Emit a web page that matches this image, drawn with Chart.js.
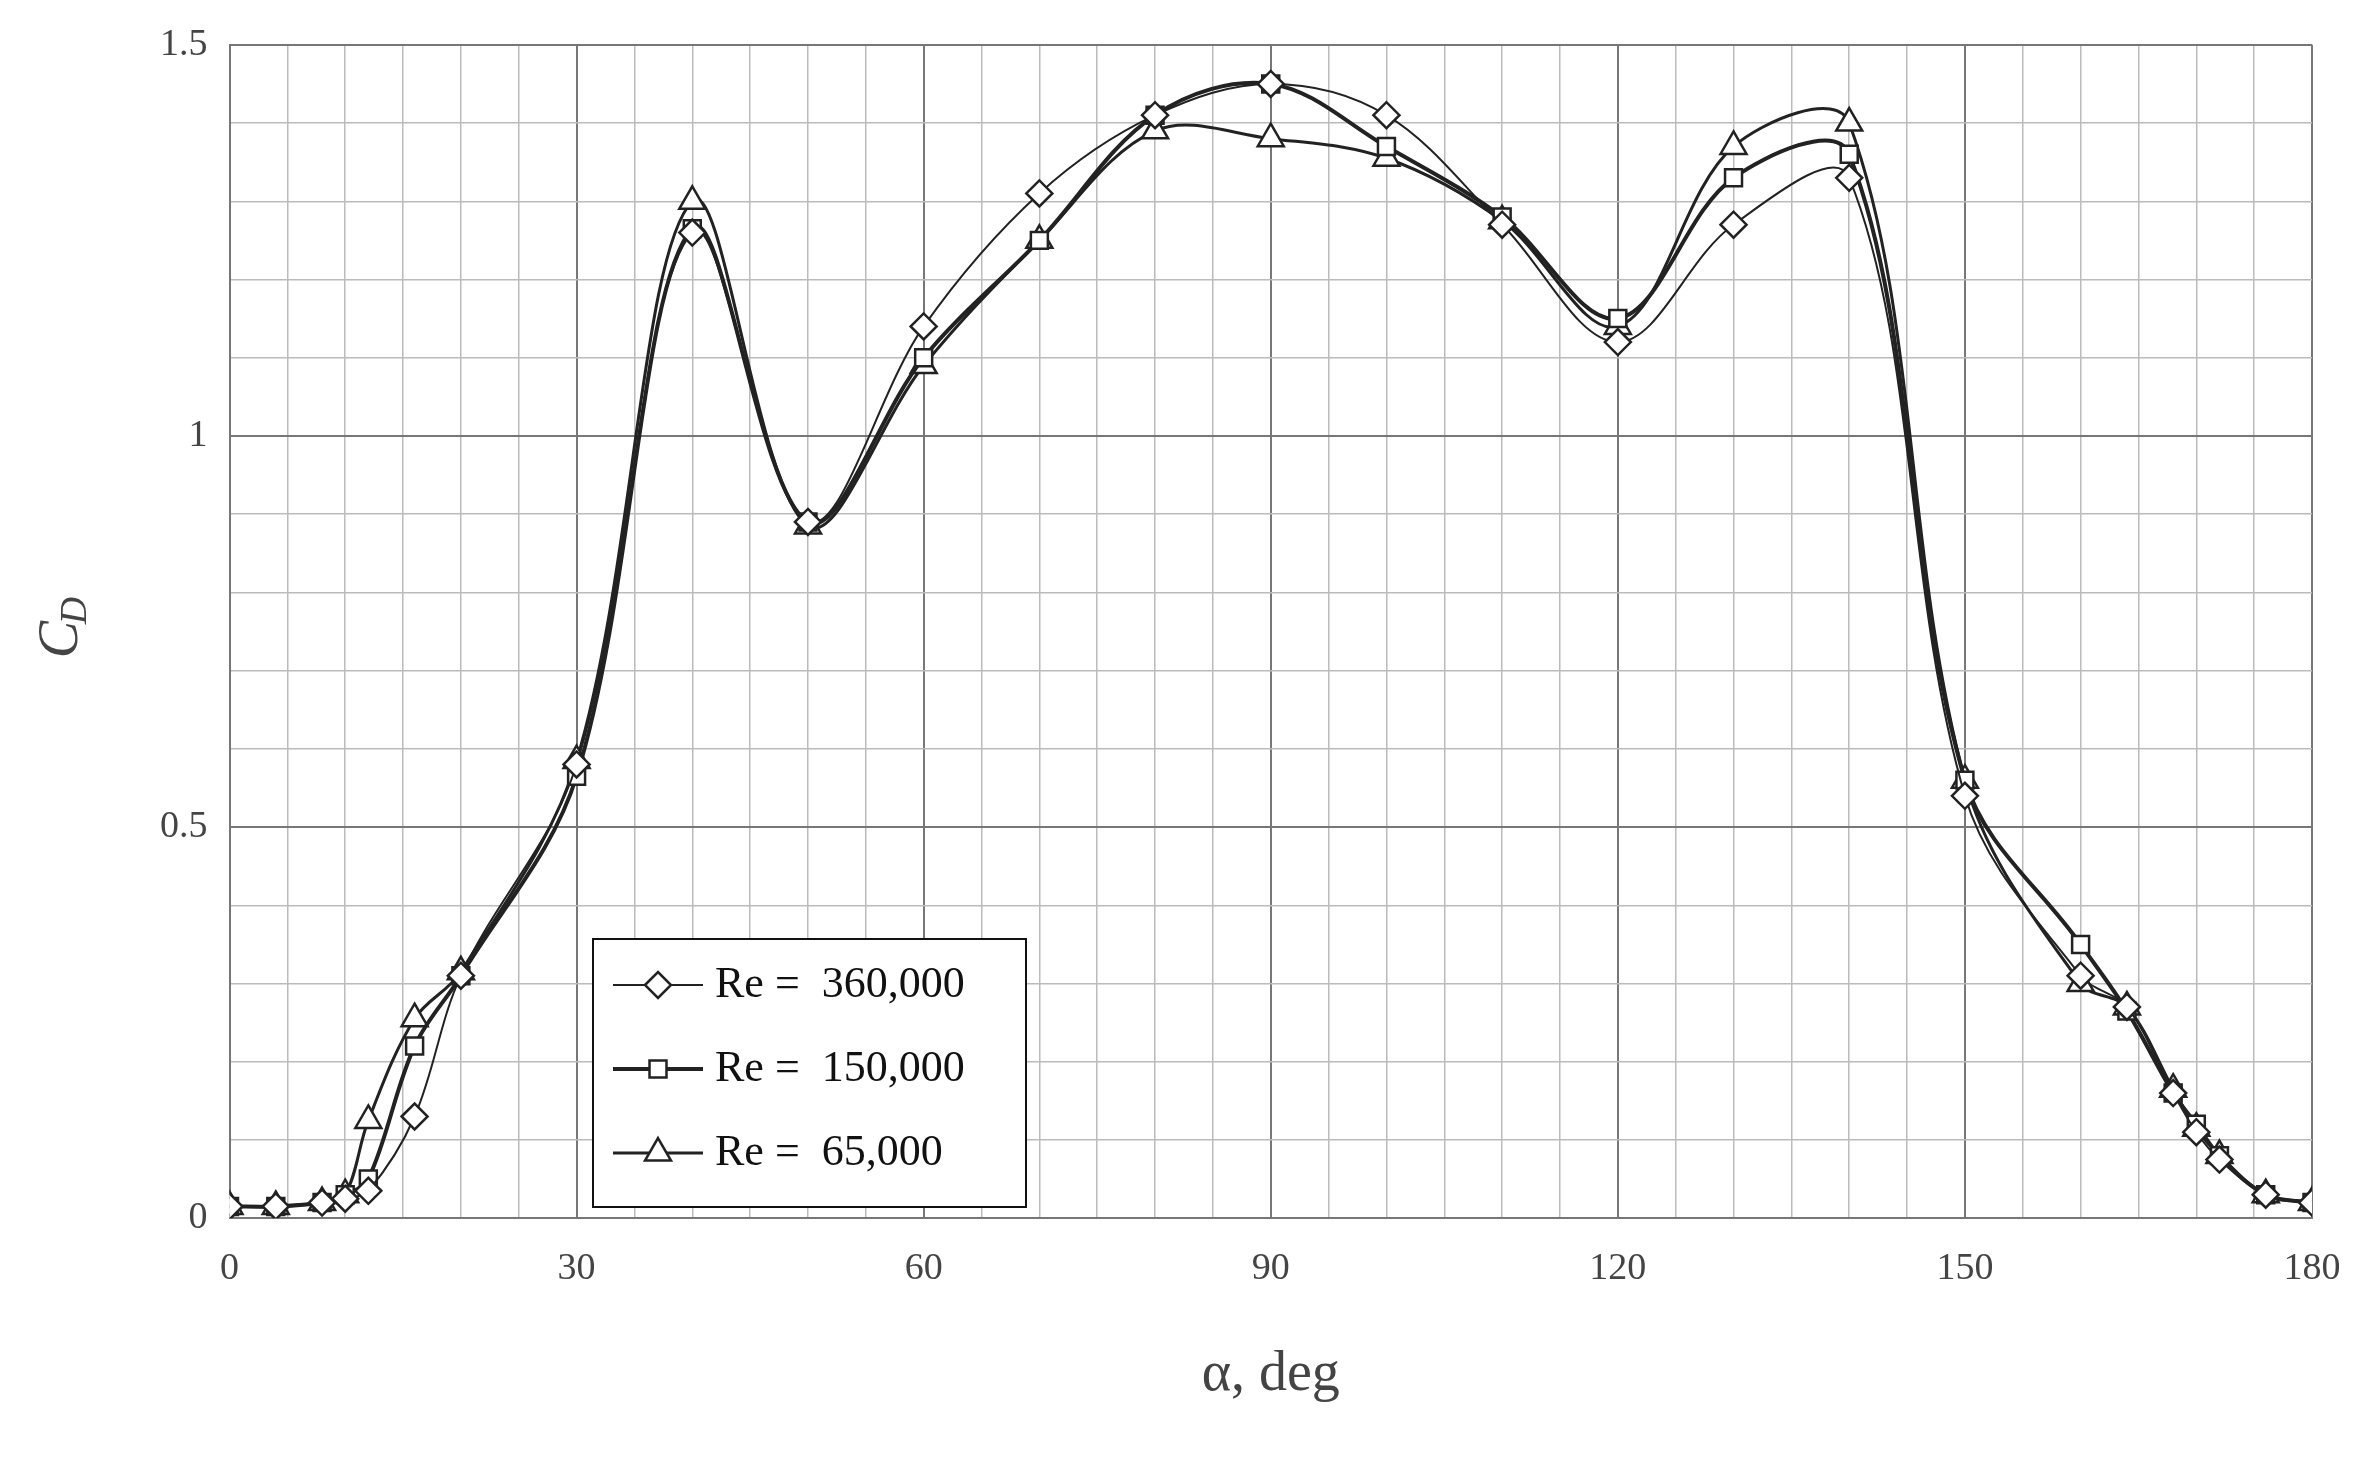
<!DOCTYPE html>
<html><head><meta charset="utf-8">
<script src="https://cdn.jsdelivr.net/npm/chart.js@4.4.1/dist/chart.umd.min.js"></script>
<style>html,body{margin:0;background:#fff}#wrap{width:2374px;height:1463px}</style>
</head><body><div id="wrap"><canvas id="c"></canvas></div>
<script>
const alpha = [0,4,8,10,12,16,20,30,40,50,60,70,80,90,100,110,120,130,140,150,160,164,168,170,172,176,180];
const cd360 = [0.015,0.015,0.02,0.025,0.035,0.13,0.31,0.58,1.26,0.89,1.14,1.31,1.41,1.45,1.41,1.27,1.12,1.27,1.33,0.54,0.31,0.27,0.16,0.11,0.075,0.03,0.02];
const cd150 = [0.015,0.015,0.02,0.03,0.05,0.22,0.31,0.565,1.265,0.89,1.10,1.25,1.41,1.45,1.37,1.28,1.15,1.33,1.36,0.56,0.35,0.265,0.16,0.12,0.08,0.03,0.02];
const cd65 = [0.015,0.015,0.02,0.03,0.125,0.255,0.315,0.585,1.30,0.885,1.09,1.25,1.39,1.38,1.355,1.275,1.14,1.37,1.40,0.56,0.30,0.27,0.165,0.115,0.08,0.03,0.02];
const seriesNames = ["Re =  360,000","Re =  150,000","Re =  65,000"];
const xTicks = [0,30,60,90,120,150,180];
const yTicks = [0,0.5,1,1.5];

const font = "Liberation Serif";
function ds(label, ys, style, w){
  return {label, data: alpha.map((a,i)=>({x:a,y:ys[i]})), borderColor:"#222", borderWidth:w,
    pointStyle:style, pointRadius: style==="rectRot"?13:(style==="triangle"?15:12), pointBackgroundColor:"#fff",
    pointBorderColor:"#222", pointBorderWidth:2.5, tension:0.35, fill:false};
}
const legendPlugin = {
  id:"leg",
  afterDraw(chart){
    const ctx = chart.ctx, x0 = 593, y0 = 939, w = 433, h = 268;
    ctx.save();
    ctx.fillStyle="#fff"; ctx.fillRect(x0,y0,w,h);
    ctx.strokeStyle="#111"; ctx.lineWidth=2; ctx.strokeRect(x0,y0,w,h);
    const styles=["rectRot","rect","triangle"], lw=[2,4,3];
    ctx.font = "44px '"+font+"'"; ctx.textBaseline="middle"; ctx.fillStyle="#111";
    for(let i=0;i<3;i++){
      const y = y0+46+i*84;
      ctx.strokeStyle="#222"; ctx.lineWidth=lw[i];
      ctx.beginPath(); ctx.moveTo(x0+20,y); ctx.lineTo(x0+110,y); ctx.stroke();
      ctx.fillStyle="#fff"; ctx.lineWidth=2.5;
      Chart.helpers.drawPoint(ctx,{pointStyle:styles[i],radius:styles[i]==="rectRot"?13:(styles[i]==="triangle"?15:12),rotation:0,borderWidth:2.5},x0+65,y);
      ctx.fillStyle="#111";
      ctx.fillText(seriesNames[i], x0+122, y);
    }
    ctx.save();
    ctx.translate(62, (chart.chartArea.top+chart.chartArea.bottom)/2);
    ctx.rotate(-Math.PI/2);
    ctx.textAlign="center";
    ctx.font = "italic 56px '"+font+"'"; ctx.fillStyle="#444";
    ctx.fillText("C", -8, 0);
    ctx.font = "italic 38px '"+font+"'";
    ctx.fillText("D", 21, 14);
    ctx.restore();
    ctx.restore();
  }
};
new Chart(document.getElementById("c"), {
  type:"line",
  data:{datasets:[ds(seriesNames[0],cd360,"rectRot",2), ds(seriesNames[1],cd150,"rect",4), ds(seriesNames[2],cd65,"triangle",3)]},
  options:{
    responsive:true, maintainAspectRatio:false, animation:false,
    layout:{padding:{left:138,right:62,top:42,bottom:50}},
    plugins:{legend:{display:false},tooltip:{enabled:false}},
    scales:{
      x:{type:"linear",min:0,max:180,
        ticks:{stepSize:5,autoSkip:false,maxRotation:0,color:"#444",font:{family:font,size:38},padding:28,
          callback:v=>xTicks.includes(v)?String(v):""},
        grid:{color:c=>c.tick.value%30===0?"#777":"#bbb",lineWidth:c=>c.tick.value%30===0?2:1.5,drawTicks:false},
        border:{color:"#777",width:2},
        title:{display:true,text:"α, deg",color:"#444",font:{family:font,size:56},padding:{top:22}}},
      y:{min:0,max:1.5,
        ticks:{stepSize:0.1,autoSkip:false,color:"#444",font:{family:font,size:38},padding:22,
          callback:v=>{const r=Math.round(v*10)/10; return yTicks.includes(r)?String(r):"";}},
        grid:{color:c=>Math.round(c.tick.value*10)%5===0?"#777":"#bbb",lineWidth:c=>Math.round(c.tick.value*10)%5===0?2:1.5,drawTicks:false},
        border:{color:"#777",width:2}}
    }
  },
  plugins:[legendPlugin]
});
</script></body></html>
